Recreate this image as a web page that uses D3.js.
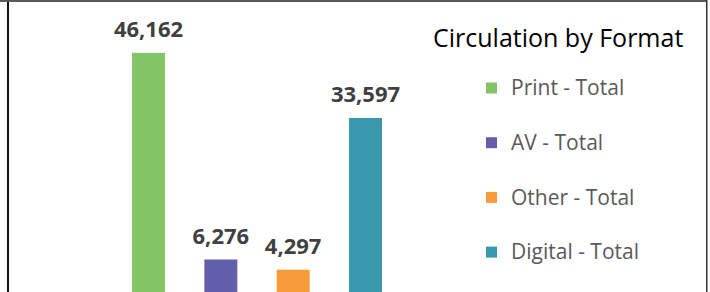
<!DOCTYPE html>
<html>
<head>
<meta charset="utf-8">
<script src="https://cdn.jsdelivr.net/npm/d3@7"></script>
<style>
  html, body { margin: 0; padding: 0; background: #fff; }
  svg { display: block; }
</style>
</head>
<body>
<svg id="chart" width="710" height="292"></svg>
<script>
// chart data
const categories = ["Print - Total", "AV - Total", "Other - Total", "Digital - Total"];
const values = [46162, 6276, 4297, 33597];
const colors = ["#83c566", "#635ea9", "#f89b3a", "#3a98ae"];
const title = "Circulation by Format";

const width = 710, height = 292;
const svg = d3.select("#chart");

// frame lines (the picture is a crop of a bordered sheet)
svg.append("rect").attr("x", 0).attr("y", 0).attr("width", 707).attr("height", 2).attr("fill", "#5a5a5a");
svg.append("rect").attr("x", 7).attr("y", 2).attr("width", 2).attr("height", height).attr("fill", "#111");
svg.append("rect").attr("x", 706).attr("y", 0).attr("width", 1.5).attr("height", height).attr("fill", "#333");

const x = d3.scaleBand()
    .domain(categories)
    .range([132, 382])
    .paddingInner(0.544)
    .paddingOuter(0);

const y = d3.scaleLinear()
    .domain([0, 50000])
    .range([292, 33]);

const data = categories.map((c, i) => ({ name: c, value: values[i], color: colors[i] }));

svg.selectAll(".bar")
    .data(data)
    .enter()
    .append("rect")
    .attr("class", "bar")
    .attr("x", d => x(d.name))
    .attr("y", d => y(d.value))
    .attr("width", x.bandwidth())
    .attr("height", d => y(0) - y(d.value))
    .attr("fill", d => d.color);

const fmt = d3.format(",");
svg.selectAll(".lbl")
    .data(data)
    .enter()
    .append("text")
    .attr("class", "lbl")
    .attr("x", d => x(d.name) + x.bandwidth() / 2)
    .attr("y", d => y(d.value) - 15.5)
    .attr("text-anchor", "middle")
    .attr("font-family", "'Open Sans', sans-serif")
    .attr("font-weight", "bold")
    .attr("font-size", 22)
    .attr("fill", "#404040")
    .text(d => fmt(d.value));

// title
svg.append("text")
    .attr("x", 433)
    .attr("y", 47)
    .attr("font-family", "'Open Sans', sans-serif")
    .attr("font-size", 25)
    .attr("fill", "#000")
    .text(title);

// legend
const legend = svg.selectAll(".leg")
    .data(data)
    .enter()
    .append("g")
    .attr("class", "leg")
    .attr("transform", (d, i) => `translate(486, ${88 + i * 54.7})`);

legend.append("rect")
    .attr("x", 0)
    .attr("y", -5.5)
    .attr("width", 11)
    .attr("height", 11)
    .attr("fill", d => d.color);

legend.append("text")
    .attr("x", 25)
    .attr("y", 0)
    .attr("dy", "0.35em")
    .attr("font-family", "'Open Sans', sans-serif")
    .attr("font-size", 21)
    .attr("fill", "#595959")
    .text(d => d.name);
</script>
</body>
</html>
